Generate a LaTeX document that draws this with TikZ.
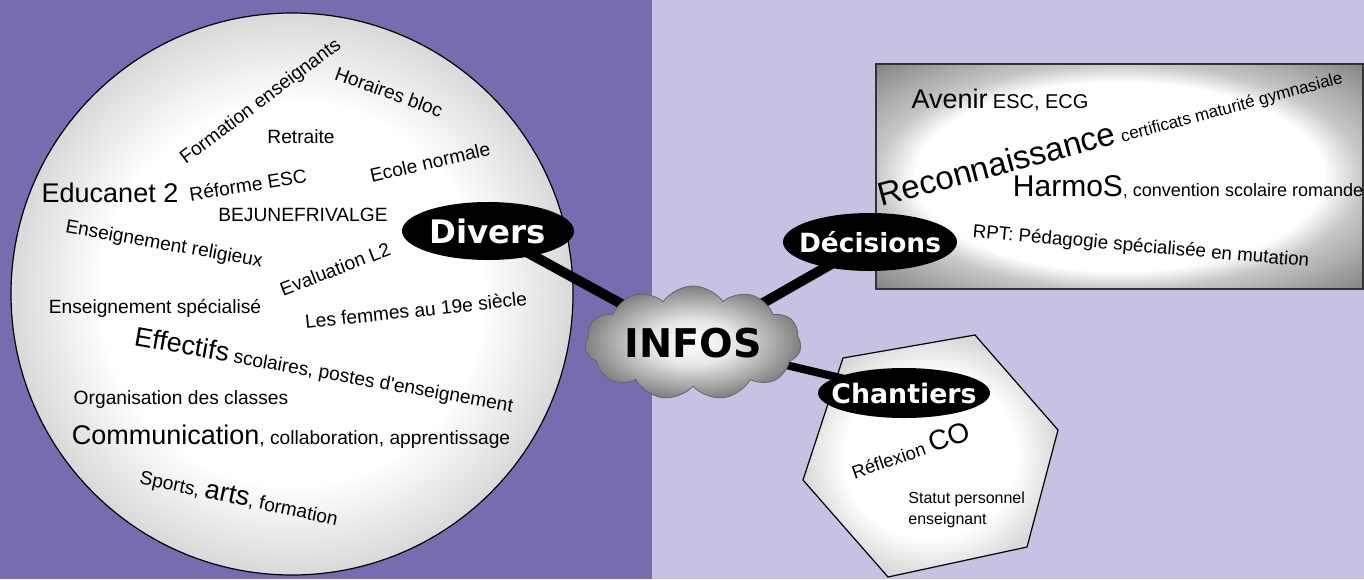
\documentclass[tikz,border=0pt]{standalone}
\usepackage{fontspec}
\setmainfont{Liberation Sans}
\newfontfamily\etiqfont{DejaVu Sans}
\usetikzlibrary{shapes.geometric,shapes.symbols,backgrounds}
\definecolor{violetfonce}{RGB}{119,108,176}
\definecolor{violetclair}{RGB}{199,193,227}
\pgfdeclareradialshading{bulle}{\pgfpoint{0bp}{0bp}}{color(0bp)=(white); color(17bp)=(white); color(25bp)=(black!15); color(50bp)=(black!15)}
\pgfdeclareradialshading{vignette}{\pgfpoint{0bp}{0bp}}{color(0bp)=(white); color(21bp)=(white); color(25bp)=(black!22); color(36bp)=(black!50); color(50bp)=(black!50)}
\pgfdeclareradialshading{nuage}{\pgfpoint{0bp}{0bp}}{color(0bp)=(white); color(10bp)=(black!10); color(25bp)=(black!50); color(50bp)=(black!50)}
\newcommand{\gros}[1]{{\fontsize{13.5}{15}\selectfont #1}}
\tikzset{
  sujet/.style     = {font=\fontsize{9.6}{11}\selectfont, inner sep=0pt},
  etiquette/.style = {ellipse, fill=black, text=white, inner ysep=0pt},
  lien/.style      = {line width=5pt, draw=black},
}

\begin{document}
\begin{tikzpicture}[x=0.5pt, y=-0.5pt]
  \useasboundingbox (0,0) rectangle (1364,579);

  \begin{pgfonlayer}{background}
    \fill[violetfonce] (0,0) rectangle (652,579);
    \fill[violetclair] (652,0) rectangle (1364,579);
    % bulle "Divers"
    \draw[shading=bulle, line width=0.6pt] (292,294) circle (281);
    % cadre "Decisions"
    \draw[shading=vignette, draw=black!80, line width=0.6pt] (876,64) rectangle (1363,289);
    % hexagone "Chantiers"
    \draw[shading=bulle, line width=0.6pt]
      (843,358) -- (975,335) -- (1058,430) -- (1027,547) -- (888,577) -- (803,480) -- cycle;
  \end{pgfonlayer}

  % sujets divers
  \node[sujet, rotate=37]  (form)  at (261,102) {Formation enseignants};
  \node[sujet, rotate=-20] (hor)   at (389,92)  {Horaires bloc};
  \node[sujet]             (retr)  at (301,137) {Retraite};
  \node[sujet, rotate=13]  (ecole) at (430,162) {Ecole normale};
  \node[sujet]             (educ)  at (110,193) {\gros{Educanet 2}};
  \node[sujet, rotate=9]   (ref)   at (248,185) {Réforme ESC};
  \node[sujet]             (bej)   at (303,215) {BEJUNEFRIVALGE};
  \node[sujet, rotate=-10] (relig) at (164,245) {Enseignement religieux};
  \node[sujet, rotate=21]  (eval)  at (335,269) {Evaluation L2};
  \node[sujet]             (spec)  at (155,308) {Enseignement spécialisé};
  \node[sujet, rotate=6]   (fem)   at (416,310) {Les femmes au 19e siècle};
  \node[sujet, rotate=-10] (eff)   at (324,371) {\gros{Effectifs} scolaires, postes d\textquotesingle enseignement};
  \node[sujet]             (org)   at (181,400) {Organisation des classes};
  \node[sujet]             (comm)  at (291,437) {\gros{Communication}, collaboration, apprentissage};
  \node[sujet, rotate=-12] (sport) at (239,498) {Sports, \gros{arts}, formation};

  % decisions
  \node[sujet] (aven) at (1000,100) {{\fontsize{13.5}{15}\selectfont Avenir} {\fontsize{10}{12}\selectfont ESC, ECG}};
  \node[sujet, rotate=15] (recon) at (1110,135) {{\fontsize{16.5}{18}\selectfont Reconnaissance} {\fontsize{8.5}{10}\selectfont certificats maturité gymnasiale}};
  \node[sujet] (harm) at (1188,187) {{\fontsize{15}{17}\selectfont HarmoS}{\fontsize{9}{11}\selectfont, convention scolaire romande}};
  \node[sujet, rotate=-5] (rpt) at (1141,247) {{\fontsize{9.4}{11}\selectfont RPT: Pédagogie spécialisée en mutation}};

  % chantiers
  \node[sujet, rotate=19] (co) at (910,450) {{\fontsize{9.2}{11}\selectfont Réflexion} {\fontsize{14}{16}\selectfont CO}};
  \node[sujet, anchor=west, align=left, font=\fontsize{8}{10.5}\selectfont] (statut) at (908,510) {Statut personnel\\enseignant};

  % etiquettes
  \node[cloud, cloud puffs=11, cloud puff arc=110, cloud ignores aspect, inner sep=0pt,
        minimum width=108pt, minimum height=57pt, shading=nuage, draw=black!60,
        font=\etiqfont\bfseries\fontsize{19.8}{22}\selectfont] (infos) at (693,343) {INFOS};
  \node[etiquette, inner xsep=-4pt, minimum width=86pt, minimum height=29pt,
        font=\etiqfont\bfseries\fontsize{16.2}{18}\selectfont] (divers) at (488,231) {Divers};
  \node[etiquette, inner xsep=-6pt, minimum width=87pt, minimum height=29pt,
        font=\etiqfont\bfseries\fontsize{13.2}{15}\selectfont] (dec) at (870,242) {Décisions};
  \node[etiquette, inner xsep=-6pt, minimum width=86pt, minimum height=25pt,
        font=\etiqfont\bfseries\fontsize{13.4}{15}\selectfont] (chant) at (904,393) {Chantiers};

  \begin{pgfonlayer}{background}
    \draw[lien] (divers.center) -- (infos.center);
    \draw[lien] (dec.center) -- (infos.center);
    \draw[lien, line width=4pt] (chant.center) -- (infos.center);
  \end{pgfonlayer}
\end{tikzpicture}
\end{document}
